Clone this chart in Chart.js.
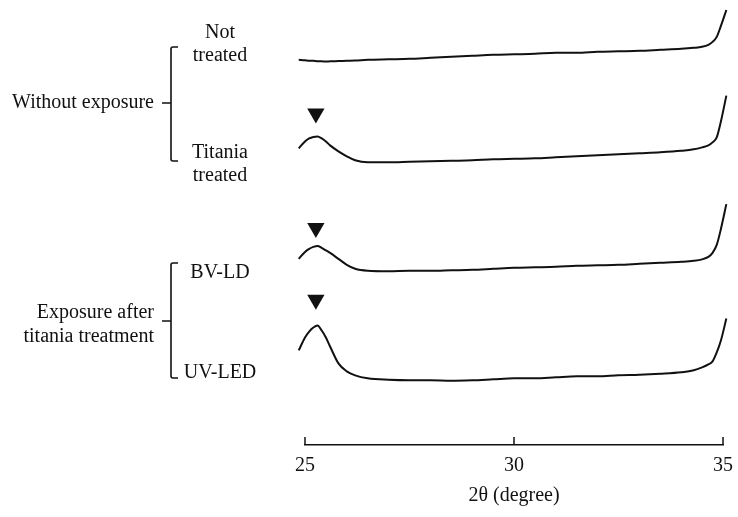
<!DOCTYPE html>
<html><head><meta charset="utf-8">
<script src="https://cdn.jsdelivr.net/npm/chart.js@4.4.1/dist/chart.umd.min.js"></script>
<style>html,body{margin:0;padding:0;background:#fff}#wrap{width:738px;height:517px;position:relative}</style>
</head><body><div id="wrap"><canvas id="c"></canvas></div>
<script>
// 2θ (degree) sampling positions
const twoTheta = [24.85,25.0,25.1,25.2,25.3,25.4,25.5,25.6,25.8,26.0,26.2,26.5,27,27.5,28,28.5,29,29.5,30,30.5,31,31.5,32,32.5,33,33.5,34,34.3,34.5,34.65,34.75,34.85,34.95,35.08];
// offset intensities (a.u.)
const notTreated    = [387,386.5,386,386,385.5,385.5,385.2,385.4,385.7,386,386.3,387,387.5,388,389,390,391,392,392.5,393,394,394,395,395.5,396,397,398,399,400,402,405,410,421,437];
const titaniaTreated= [298,305,308,309.5,310,308,305,301,295,290,286,284,284,284.5,285,285.5,286,287,287.5,288,289,290,291,292,293,294,295.5,297,299,301,304,309,325,351];
const bvLD          = [187,194,197,199,200,198,195.5,193,187,181,177,175,174.5,175,175,175.5,176,177,178,178.5,179,180,180.5,181,182,183,184,185,186.5,189,193,201,217,242];
const uvLED         = [95,108,114,118,120,115,108,99,82,74,70,67,65.5,65,65,64.5,65,66,67,67,68,69,69,70,70.5,71.5,73,75,78,81,84,93,105,127];
// peak markers (▼) position
const peakTheta = 25.26;
const peakMarkY = [333, 218, 146];
// axis ticks
const xTicks = [25, 30, 35];
const xTitle = '2θ (degree)';
const sampleLabels = [['Not','treated'],['Titania','treated'],['BV-LD'],['UV-LED']];
const groupLabels = [['Without exposure'],['Exposure after','titania treatment']];

const FONT = '"Liberation Serif", "Times New Roman", serif';
const INK = '#111';

function series(vals){ return twoTheta.map((t,i)=>({x:t,y:vals[i]})); }
const lineDs = (vals)=>({type:'line',data:series(vals),borderColor:INK,borderWidth:2,pointRadius:0,
  cubicInterpolationMode:'monotone',tension:0.4,fill:false,clip:false});

const annot = {
  id:'annot',
  afterDraw(chart){
    const ctx = chart.ctx, xs = chart.scales.x, yb = chart.chartArea.bottom;
    ctx.save();
    ctx.strokeStyle = INK; ctx.lineWidth = 1.5;
    xs.ticks.forEach(t=>{
      const px = Math.round(xs.getPixelForValue(t.value));
      ctx.beginPath(); ctx.moveTo(px, yb); ctx.lineTo(px, yb-8); ctx.stroke();
    });
    ctx.fillStyle = INK;
    ctx.font = '20px ' + FONT;
    ctx.textBaseline = 'alphabetic';
    // sample labels
    ctx.textAlign = 'center';
    const sx = 220;
    const sy = [[38,61],[158,181],[278],[378]];
    sampleLabels.forEach((lines,i)=>lines.forEach((s,j)=>ctx.fillText(s, sx, sy[i][j])));
    // group labels
    ctx.textAlign = 'right';
    const gx = 154;
    const gy = [[108],[318,342]];
    groupLabels.forEach((lines,i)=>lines.forEach((s,j)=>ctx.fillText(s, gx, gy[i][j])));
    // brackets
    ctx.lineWidth = 1.6;
    const br = [[47,161,103],[263,378,321]];
    br.forEach(([t,b,m])=>{
      ctx.beginPath();
      ctx.moveTo(178,t); ctx.lineTo(173,t); ctx.quadraticCurveTo(171,t,171,t+2);
      ctx.lineTo(171,b-2); ctx.quadraticCurveTo(171,b,173,b); ctx.lineTo(178,b);
      ctx.moveTo(171,m); ctx.lineTo(162,m);
      ctx.stroke();
    });
    ctx.restore();
  }
};

new Chart(document.getElementById('c'), {
  data:{datasets:[
    lineDs(notTreated), lineDs(titaniaTreated), lineDs(bvLD), lineDs(uvLED),
    {type:'scatter',data:peakMarkY.map(v=>({x:peakTheta,y:v})),pointStyle:'triangle',rotation:180,
     pointRadius:10,backgroundColor:INK,borderColor:INK,borderWidth:0,clip:false}
  ]},
  options:{
    responsive:true, maintainAspectRatio:false, animation:false,
    layout:{padding:{left:305,right:15,top:8,bottom:0}},
    plugins:{legend:{display:false},tooltip:{enabled:false}},
    scales:{
      x:{type:'linear',min:25,max:35,
        afterBuildTicks:(s)=>{s.ticks = xTicks.map(v=>({value:v}));},
        afterFit:(s)=>{s.height = 72;},
        grid:{display:false},
        border:{display:true,color:INK,width:1.5},
        ticks:{color:INK,padding:1,font:{family:FONT,size:20},maxRotation:0},
        title:{display:true,text:xTitle,color:INK,font:{family:FONT,size:20},padding:{top:0,bottom:9}}
      },
      y:{type:'linear',display:false,min:0,max:437}
    }
  },
  plugins:[annot]
});
</script></body></html>
